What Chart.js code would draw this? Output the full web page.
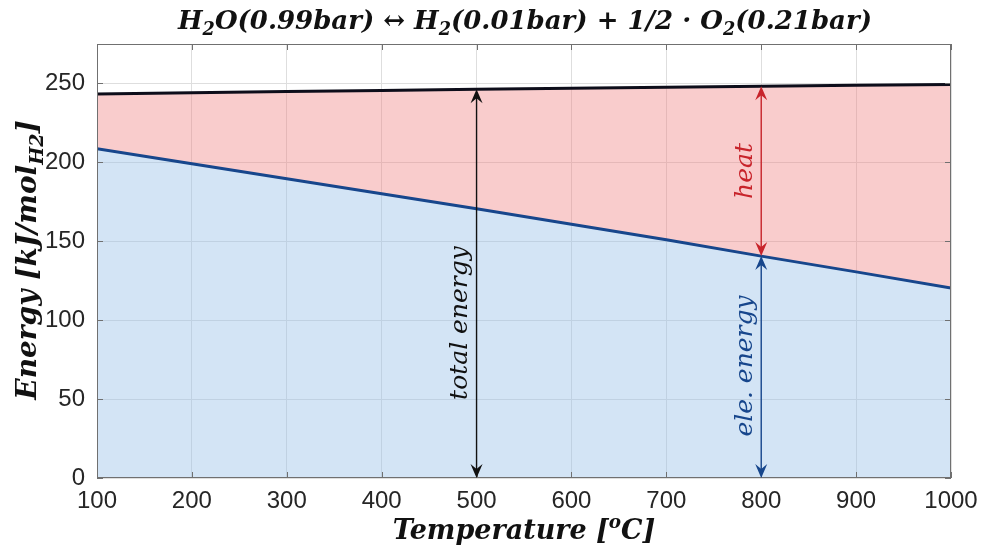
<!DOCTYPE html>
<html>
<head>
<meta charset="utf-8">
<script src="https://cdn.jsdelivr.net/npm/chart.js@4.4.0/dist/chart.umd.min.js"></script>
<style>
  html, body { margin: 0; padding: 0; background: #fff; }
  #wrap { width: 988px; height: 552px; }
</style>
</head>
<body>
<div id="wrap"><canvas id="energyChart" width="988" height="552"></canvas></div>
<script>
// temperature [°C] and energies [kJ/mol H2]
const temps = [100, 200, 300, 400, 500, 600, 700, 800, 900, 1000];
const totalEnergy = [243.3, 244.1, 244.9, 245.6, 246.3, 247.0, 247.6, 248.2, 248.8, 249.4];
const eleEnergy = [208.6, 199.1, 189.6, 180.1, 170.6, 160.8, 150.9, 140.6, 130.6, 120.4];
const yTicks = [0, 50, 100, 150, 200, 250];

const BLUE = '#17468c';
const RED = '#c8242b';
const INK = '#262626';
const FRAME = '#707070';
const SERIF = '"DejaVu Serif", serif';
const SANS = '"Liberation Sans", Arial, sans-serif';

// draws a run of text pieces, some of them sub/superscript, centred on (cx, cy)
function drawRich(ctx, parts, cx, cy, size, style, angle) {
    ctx.save();
    ctx.translate(cx, cy);
    ctx.rotate(angle || 0);
    ctx.textBaseline = 'alphabetic';
    ctx.textAlign = 'left';
    let width = 0;
    parts.forEach(p => {
        const s = p.sub || p.sup ? size * 0.68 : size;
        ctx.font = style + ' ' + s + 'px ' + SERIF;
        p.w = ctx.measureText(p.t).width;
        width += p.w;
    });
    let x = -width / 2;
    parts.forEach(p => {
        const s = p.sub || p.sup ? size * 0.68 : size;
        ctx.font = style + ' ' + s + 'px ' + SERIF;
        let dy = size * 0.35;
        if (p.sub) dy += size * 0.24;
        if (p.sup) dy -= size * 0.42;
        ctx.fillText(p.t, x, dy);
        x += p.w;
    });
    ctx.restore();
}

function arrowHead(ctx, x, y, dir) {
    // dir = -1 points up, +1 points down
    ctx.beginPath();
    ctx.moveTo(x, y);
    ctx.lineTo(x - 6, y - dir * 14);
    ctx.lineTo(x, y - dir * 9);
    ctx.lineTo(x + 6, y - dir * 14);
    ctx.closePath();
    ctx.fill();
}

function doubleArrow(ctx, x, yTop, yBot, color) {
    ctx.save();
    ctx.strokeStyle = color;
    ctx.fillStyle = color;
    ctx.lineWidth = 1.4;
    ctx.beginPath();
    ctx.moveTo(x, yTop + 5);
    ctx.lineTo(x, yBot - 5);
    ctx.stroke();
    arrowHead(ctx, x, yTop, -1);
    arrowHead(ctx, x, yBot, 1);
    ctx.restore();
}

function vText(ctx, text, x, y, color) {
    ctx.save();
    ctx.translate(x, y);
    ctx.rotate(-Math.PI / 2);
    ctx.fillStyle = color;
    ctx.font = 'italic 25px ' + SERIF;
    ctx.textAlign = 'center';
    ctx.textBaseline = 'alphabetic';
    ctx.fillText(text, 0, 0);
    ctx.restore();
}

const decorations = {
    id: 'decorations',
    afterDatasetsDraw(chart) {
        const ctx = chart.ctx;
        const xs = chart.scales.x, ys = chart.scales.y;
        const a = chart.chartArea;

        // frame with inward tick marks
        ctx.save();
        ctx.strokeStyle = FRAME;
        ctx.lineWidth = 1;
        ctx.strokeRect(a.left + 0.5, a.top + 0.5, a.right - a.left - 1, a.bottom - a.top - 1);
        ctx.beginPath();
        yTicks.forEach(v => {
            const y = Math.round(ys.getPixelForValue(v)) + 0.5;
            ctx.moveTo(a.left, y); ctx.lineTo(a.left + 6, y);
            ctx.moveTo(a.right, y); ctx.lineTo(a.right - 6, y);
        });
        temps.forEach(v => {
            const x = Math.round(xs.getPixelForValue(v)) + 0.5;
            ctx.moveTo(x, a.top); ctx.lineTo(x, a.top + 6);
            ctx.moveTo(x, a.bottom); ctx.lineTo(x, a.bottom - 6);
        });
        ctx.stroke();
        ctx.restore();

        // total energy arrow at 500 °C
        const i5 = temps.indexOf(500);
        const x5 = xs.getPixelForValue(temps[i5]);
        doubleArrow(ctx, x5, ys.getPixelForValue(totalEnergy[i5]), ys.getPixelForValue(0), '#111');
        vText(ctx, 'total energy', x5 - 10, 323, '#111');

        // heat and electrical energy at 800 °C
        const i8 = temps.indexOf(800);
        const x8 = xs.getPixelForValue(temps[i8]);
        const yEle = ys.getPixelForValue(eleEnergy[i8]);
        doubleArrow(ctx, x8, ys.getPixelForValue(totalEnergy[i8]), yEle, RED);
        doubleArrow(ctx, x8, yEle, ys.getPixelForValue(0), BLUE);
        vText(ctx, 'heat', x8 - 9, 171, RED);
        vText(ctx, 'ele. energy', x8 - 9, 366, BLUE);
    },
    afterDraw(chart) {
        const ctx = chart.ctx;
        ctx.save();
        ctx.fillStyle = '#111';
        drawRich(ctx, [
            { t: 'H' }, { t: '2', sub: true }, { t: 'O(0.99bar) \u2194 H' }, { t: '2', sub: true },
            { t: '(0.01bar) + 1/2 \u00b7 O' }, { t: '2', sub: true }, { t: '(0.21bar)' }
        ], 525, 20, 26, 'bold italic', 0);
        drawRich(ctx, [
            { t: 'Temperature [' }, { t: 'o', sup: true }, { t: 'C]' }
        ], 524, 530, 27, 'bold italic', 0);
        drawRich(ctx, [
            { t: 'Energy [kJ/mol' }, { t: 'H2', sub: true }, { t: ']' }
        ], 26, 260, 28, 'bold italic', -Math.PI / 2);
        ctx.restore();
    }
};

new Chart(document.getElementById('energyChart').getContext('2d'), {
    type: 'line',
    data: {
        datasets: [{
            label: 'ele. energy',
            data: temps.map((t, i) => ({ x: t, y: eleEnergy[i] })),
            borderColor: BLUE,
            borderWidth: 3,
            backgroundColor: 'rgba(150, 190, 230, 0.42)',
            fill: 'origin',
            pointRadius: 0,
            tension: 0
        }, {
            label: 'total energy',
            data: temps.map((t, i) => ({ x: t, y: totalEnergy[i] })),
            borderColor: '#0d0d1a',
            borderWidth: 3,
            backgroundColor: 'rgba(240, 128, 128, 0.4)',
            fill: '-1',
            pointRadius: 0,
            tension: 0
        }]
    },
    options: {
        responsive: false,
        animation: false,
        layout: { padding: { left: 0, right: 37, top: 44, bottom: 0 } },
        plugins: { legend: { display: false }, tooltip: { enabled: false } },
        scales: {
            x: {
                type: 'linear',
                min: 100,
                max: 1000,
                afterFit(scale) { scale.height = 74; },
                ticks: {
                    stepSize: 100,
                    autoSkip: false,
                    maxRotation: 0,
                    padding: 9,
                    color: INK,
                    font: { family: SANS, size: 24 },
                    callback: v => String(v)
                },
                grid: { color: '#dedede', drawTicks: false },
                border: { display: false }
            },
            y: {
                min: 0,
                max: 275,
                afterFit(scale) { scale.width = 97; },
                afterBuildTicks(scale) { scale.ticks = yTicks.map(v => ({ value: v })); },
                ticks: {
                    padding: 12,
                    color: INK,
                    font: { family: SANS, size: 24 },
                    callback: v => String(v)
                },
                grid: { color: '#dedede', drawTicks: false },
                border: { display: false }
            }
        }
    },
    plugins: [decorations]
});
</script>
</body>
</html>
